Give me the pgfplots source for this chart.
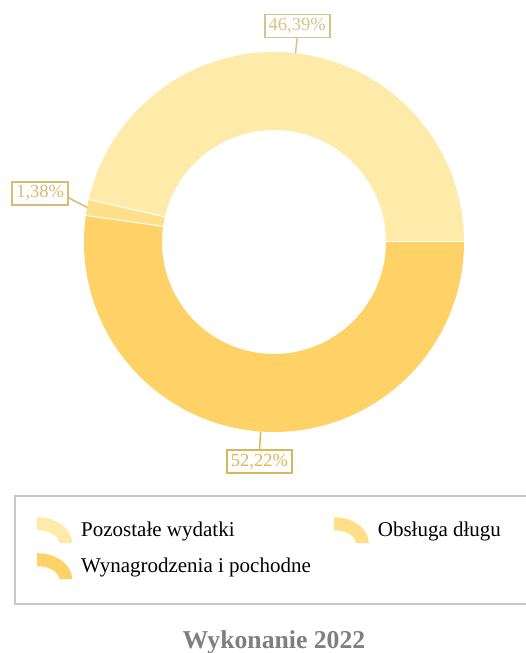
\documentclass[border=0pt]{standalone}
\usepackage{fontspec}
\setmainfont{Liberation Serif}
\usepackage{pgfplots}
\usepackage{pgfplotstable}
\pgfplotsset{compat=1.18}

\definecolor{cWyn}{HTML}{FFD268}
\definecolor{cObs}{HTML}{FFDF87}
\definecolor{cPoz}{HTML}{FFEBA9}
\definecolor{lWyn}{HTML}{D8B75C}
\definecolor{lObs}{HTML}{D4BC72}
\definecolor{lPoz}{HTML}{D5C487}
\definecolor{framegray}{HTML}{C8C8C8}
\definecolor{titlegray}{HTML}{7F7F7F}

% udzialy w wydatkach (procent)
\pgfplotstableread[col sep=comma]{
name,value
Wynagrodzenia,52.22
Obsluga,1.38
Pozostale,46.39
}\donut

\def\Ro{190pt}
\def\Ri{112pt}
\newcommand\seg[3]{%
  \fill[#3] ([shift={(#1:\Ro)}]axis cs:0,0) arc[start angle=#1,end angle=#2,radius=\Ro]
    -- ([shift={(#2:\Ri)}]axis cs:0,0) arc[start angle=#2,end angle=#1,radius=\Ri] -- cycle;}
\newcommand\cut[1]{%
  \draw[white,line width=1pt] ([shift={(#1:\Ri)}]axis cs:0,0) -- ([shift={(#1:\Ro)}]axis cs:0,0);}
\newcommand\icon[1]{%
  \path[draw=none,fill=none] (0pt,0pt) -- (42pt,0pt);
  \fill[#1,draw=none] (0pt,13pt) arc[start angle=90,end angle=0,x radius=35pt,y radius=26pt]
    -- (22pt,-13pt) arc[start angle=0,end angle=90,x radius=22pt,y radius=13pt] -- cycle;}

\tikzset{lbl/.style={draw=#1,text=#1,line width=1.8pt,fill=white,
  font=\fontsize{18.5}{20}\selectfont,inner xsep=4pt,inner ysep=3pt,
  text height=13pt,text depth=4pt}}

\begin{document}
\begin{tikzpicture}
\pgfplotstablegetelem{0}{value}\of\donut \let\vA\pgfplotsretval
\pgfplotstablegetelem{1}{value}\of\donut \let\vB\pgfplotsretval
\pgfplotstablegetelem{2}{value}\of\donut \let\vC\pgfplotsretval
\pgfmathsetmacro\tot{\vA+\vB+\vC}
\pgfmathsetmacro\aA{-\vA/\tot*360}
\pgfmathsetmacro\aB{\aA-\vB/\tot*360}
\pgfmathsetmacro\mA{\aA/2}
\pgfmathsetmacro\mB{(\aA+\aB)/2}
\pgfmathsetmacro\mC{(\aB-360)/2}
\pgfkeys{/pgf/number format/.cd,use comma,fixed,precision=2,fixed zerofill,assume math mode=true}
\begin{axis}[
  hide axis, scale only axis,
  x=1pt, y=1pt,
  xmin=-274, xmax=251,
  ymin=-411, ymax=242,
  clip=false,
  legend columns=2,
  legend style={at={(axis cs:-237,-275)}, anchor=north west,
    draw=none, fill=none, inner sep=0pt, row sep=10pt,
    font=\fontsize{21}{24}\selectfont,
    /tikz/every even column/.append style={column sep=21pt}},
  legend cell align=left,
]
\addlegendimage{legend image code/.code={\icon{cPoz}}}
\addlegendentry{Pozostałe wydatki}
\addlegendimage{legend image code/.code={\icon{cObs}}}
\addlegendentry{Obsługa długu}
\addlegendimage{legend image code/.code={\icon{cWyn}}}
\addlegendentry{Wynagrodzenia i pochodne}

\seg{0}{\aA}{cWyn}
\seg{\aA}{\aB}{cObs}
\seg{\aB}{-360}{cPoz}
\cut{0}\cut{\aA}\cut{\aB}

\draw[lWyn,line width=1.5pt] ([shift={(\mA:\Ro)}]axis cs:0,0) -- ([shift={(\mA:208pt)}]axis cs:0,0)
  node[lbl=lWyn,anchor=north] {\pgfmathprintnumber{\vA}\%};
\draw[lPoz,line width=1.5pt] ([shift={(\mC:\Ro)}]axis cs:0,0) -- ([shift={(\mC:205pt)}]axis cs:0,0)
  node[lbl=lPoz,anchor=south] {\pgfmathprintnumber{\vC}\%};
\draw[lObs,line width=1.5pt] ([shift={(\mB:\Ro)}]axis cs:0,0) -- (axis cs:-207,45);
\node[lbl=lObs,anchor=east] at (axis cs:-205,48.5) {\pgfmathprintnumber{\vB}\%};

\draw[framegray,line width=2pt] (axis cs:-259,-254) rectangle (axis cs:270,-362);
\node[anchor=base,text=titlegray,font=\fontsize{25.7}{30}\selectfont\bfseries] at (axis cs:0,-406) {Wykonanie 2022};

\coordinate (bl) at (axis cs:-274,-411);
\coordinate (tr) at (axis cs:251,242);
\end{axis}
\pgfresetboundingbox
\path[use as bounding box] (bl) rectangle (tr);
\end{tikzpicture}
\end{document}
